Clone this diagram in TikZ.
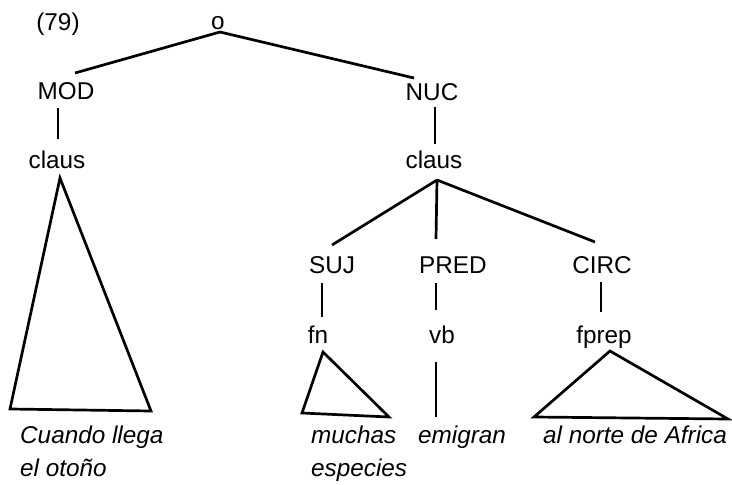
\documentclass[tikz,border=0pt]{standalone}
\usepackage{fontspec}
\setmainfont{Liberation Sans}
\begin{document}
\begin{tikzpicture}[x=1pt,y=-1pt,
  lab/.style={anchor=base,inner sep=0pt,font=\fontsize{24.3}{28}\selectfont},
  leaf/.style={anchor=base west,inner sep=0pt,font=\fontsize{24.3}{28}\selectfont\itshape},
  br/.style={line width=2.7pt},
  tri/.style={line width=2.7pt,line join=miter}]
\useasboundingbox (0,0) rectangle (732,485);
% labels
\node[lab] (n79) at (58,30) {(79)};
\node[lab] (o) at (218,29) {o};
\node[lab] (MOD) at (66,99) {MOD};
\node[lab] (NUC) at (432,100) {NUC};
\node[lab] (clausL) at (57,168) {claus};
\node[lab] (clausR) at (434,168) {claus};
\node[lab] (SUJ) at (332,273) {SUJ};
\node[lab] (PRED) at (453,273) {PRED};
\node[lab] (CIRC) at (602,273) {CIRC};
\node[lab] (fn) at (318,343) {fn};
\node[lab] (vb) at (442,343) {vb};
\node[lab] (fprep) at (604,343) {fprep};
% leaves
\node[leaf] (cuando) at (20,443) {Cuando llega};
\node[leaf] (otono) at (20,476) {el otoño};
\node[leaf] (muchas) at (311,443) {muchas};
\node[leaf] (especies) at (311,476) {especies};
\node[leaf] (emigran) at (418,443) {emigran};
\node[leaf] (africa) at (543,443) {al norte de Africa};
% branches
\draw[br] ([shift={(2,3)}]o.base) -- ([shift={(9,-26)}]MOD.base);
\draw[br] ([shift={(2,3)}]o.base) -- ([shift={(-18,-22)}]NUC.base);
\draw[br] ([shift={(-8,9)}]MOD.base) -- ([shift={(1,-29)}]clausL.base);
\draw[br] ([shift={(3,7)}]NUC.base) -- ([shift={(1,-24)}]clausR.base);
\draw[tri] ([shift={(3,10)}]clausL.base) -- ([shift={(-47,241)}]clausL.base) -- ([shift={(94,243)}]clausL.base) -- cycle;
\draw[br] ([shift={(3,12)}]clausR.base) -- ([shift={(0,-28)}]SUJ.base);
\draw[br] ([shift={(3,12)}]clausR.base) -- ([shift={(-17,-34)}]PRED.base);
\draw[br] ([shift={(3,12)}]clausR.base) -- ([shift={(-7,-31)}]CIRC.base);
\draw[br] ([shift={(-10,10)}]SUJ.base) -- ([shift={(4,-26)}]fn.base);
\draw[br] ([shift={(-17,10)}]PRED.base) -- ([shift={(-6,-33)}]vb.base);
\draw[br] ([shift={(-1,9)}]CIRC.base) -- ([shift={(-3,-31)}]fprep.base);
\draw[tri] ([shift={(5,9)}]fn.base) -- ([shift={(-16,70)}]fn.base) -- ([shift={(71,74)}]fn.base) -- cycle;
\draw[br] ([shift={(-6,19)}]vb.base) -- ([shift={(18,-26)}]emigran.base west);
\draw[tri] ([shift={(6,8)}]fprep.base) -- ([shift={(-70,74)}]fprep.base) -- ([shift={(124,76)}]fprep.base) -- cycle;
\end{tikzpicture}
\end{document}
